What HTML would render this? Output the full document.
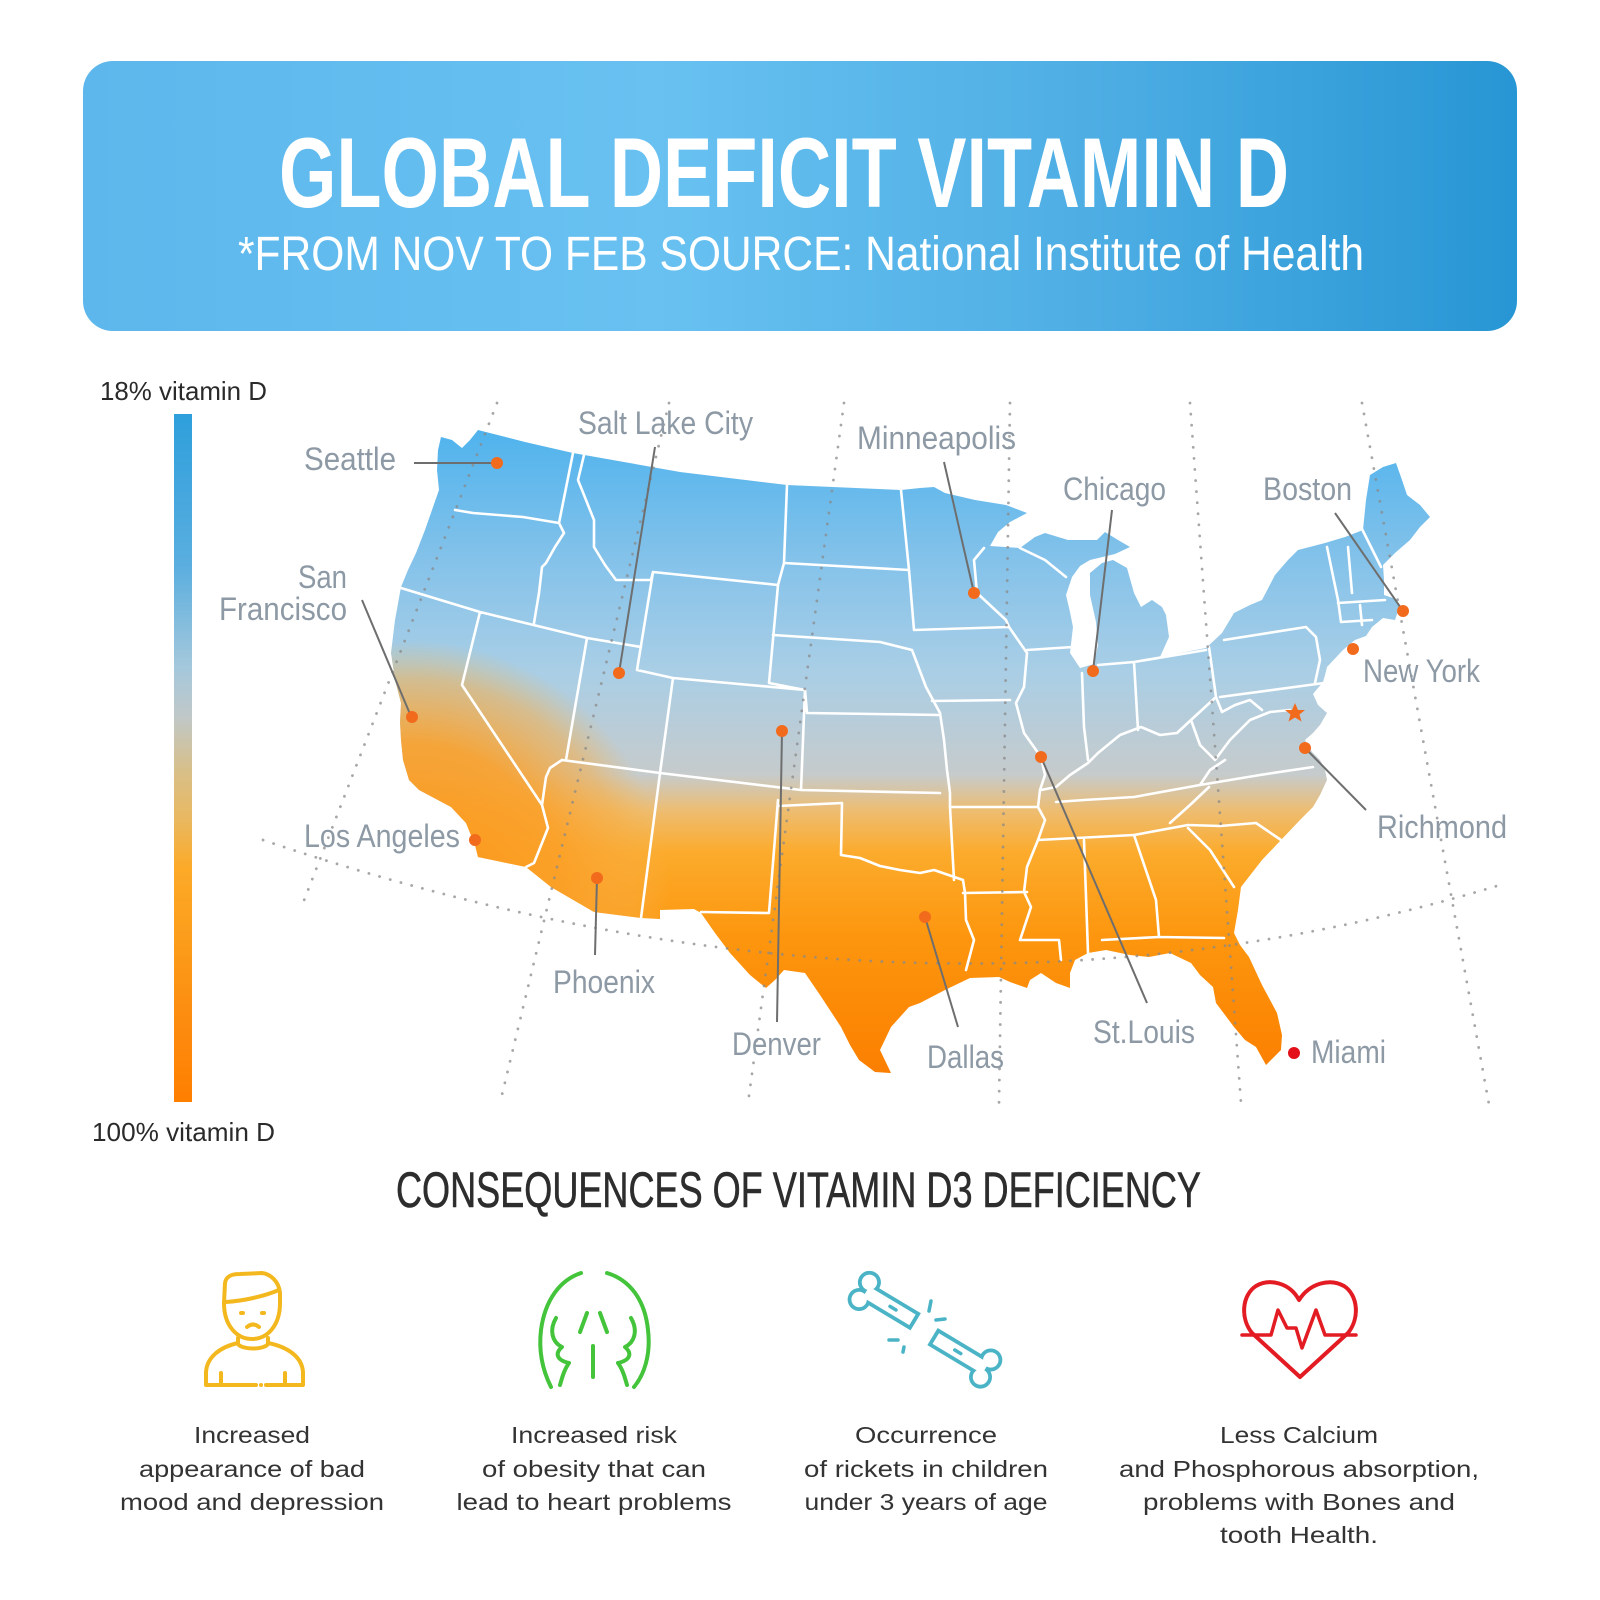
<!DOCTYPE html>
<html><head><meta charset="utf-8"><style>html,body{margin:0;padding:0;background:#fff}svg{display:block}</style></head>
<body>
<svg xmlns="http://www.w3.org/2000/svg" width="1600" height="1600" viewBox="0 0 1600 1600">
<defs>
<linearGradient id="hdr" x1="0" y1="0" x2="1" y2="0">
<stop offset="0" stop-color="#5db7ec"/><stop offset="0.4" stop-color="#68c1f1"/><stop offset="0.7" stop-color="#4eaee4"/><stop offset="1" stop-color="#2796d4"/>
</linearGradient>
<linearGradient id="bar" x1="0" y1="0" x2="0" y2="1">
<stop offset="0" stop-color="#2e9fdc"/><stop offset="0.22" stop-color="#5aaedf"/><stop offset="0.37" stop-color="#a5c8dc"/><stop offset="0.44" stop-color="#c0c8c8"/><stop offset="0.52" stop-color="#d8bf88"/><stop offset="0.59" stop-color="#e9b860"/><stop offset="0.66" stop-color="#fcaa28"/><stop offset="0.74" stop-color="#fca01e"/><stop offset="0.88" stop-color="#fc8c10"/><stop offset="1" stop-color="#ff7f00"/>
</linearGradient>
<linearGradient id="mapg" gradientUnits="userSpaceOnUse" x1="0" y1="430" x2="0" y2="1080">
<stop offset="0" stop-color="#4fb3ed"/><stop offset="0.2" stop-color="#84c2ea"/><stop offset="0.37" stop-color="#a9cee6"/><stop offset="0.53" stop-color="#c6cbcc"/><stop offset="0.585" stop-color="#edbd72"/><stop offset="0.65" stop-color="#fcab2c"/><stop offset="0.78" stop-color="#fd960e"/><stop offset="1" stop-color="#fb7e00"/>
</linearGradient>
<radialGradient id="west" gradientUnits="userSpaceOnUse" cx="410" cy="900" r="260">
<stop offset="0" stop-color="#fb9618" stop-opacity="1"/><stop offset="0.6" stop-color="#fba028" stop-opacity="0.9"/><stop offset="0.85" stop-color="#f8ac40" stop-opacity="0.5"/><stop offset="1" stop-color="#f5b550" stop-opacity="0"/>
</radialGradient>
<path id="us" d="M441,437 L452,440 L462,448 L470,440 L478,430 L525,442 L573,453 L680,472 L787,485 L901,490 L920,488 L934,487 L945,493 L975,500 L1006,505 L1027,513 L1010,522 L998,532 L990,546 L1005,547 L1020,548 L1035,537 L1045,533 L1068,540 L1097,540 L1105,532 L1118,540 L1130,547 L1115,554 L1090,560 L1080,566 L1072,577 L1066,595 L1070,612 L1073,627 L1070,653 L1080,668 L1094,664 L1098,645 L1096,622 L1090,595 L1090,573 L1102,563 L1113,560 L1127,568 L1134,593 L1141,607 L1152,600 L1162,607 L1166,615 L1169,637 L1160,657 L1185,652 L1206,648 L1222,633 L1234,613 L1250,605 L1262,600 L1275,575 L1288,560 L1298,550 L1325,543 L1345,537 L1363,530 L1366,500 L1370,475 L1383,467 L1396,463 L1402,480 L1407,495 L1420,505 L1430,517 L1420,527 L1410,540 L1395,553 L1383,565 L1384,580 L1384,595 L1393,598 L1400,605 L1395,620 L1383,618 L1372,627 L1366,636 L1355,640 L1343,650 L1327,667 L1325,675 L1323,682 L1313,694 L1318,705 L1327,713 L1320,725 L1313,733 L1305,740 L1312,752 L1320,760 L1325,770 L1327,780 L1320,795 L1313,807 L1300,820 L1281,840 L1262,860 L1241,887 L1238,910 L1234,933 L1240,945 L1249,957 L1262,985 L1277,1013 L1282,1035 L1281,1050 L1266,1065 L1256,1047 L1245,1040 L1234,1027 L1216,1003 L1213,987 L1200,975 L1191,963 L1170,953 L1149,957 L1130,955 L1106,950 L1088,953 L1075,960 L1070,973 L1070,988 L1056,983 L1041,973 L1030,980 L1027,988 L1010,982 L999,977 L970,978 L945,990 L920,1003 L909,1007 L891,1027 L880,1050 L891,1073 L875,1072 L859,1060 L850,1045 L841,1027 L820,995 L805,973 L784,970 L775,980 L766,988 L750,975 L730,953 L715,933 L701,913 L694,909 L660,910 L660,919 L641,918 L594,912 L551,887 L526,867 L478,857 L475,845 L466,823 L451,807 L419,790 L409,780 L403,760 L401,740 L400,722 L401,703 L395,680 L391,653 L395,620 L401,587 L408,570 L416,553 L425,530 L432,510 L439,490 L437,470 L438,450 Z"/>
</defs>

<rect width="1600" height="1600" fill="#fff"/>

<!-- Header -->
<rect x="83" y="61" width="1434" height="270" rx="30" ry="30" fill="url(#hdr)"/>
<text x="279" y="207" font-family="'Liberation Sans Narrow','Liberation Sans',Arial,sans-serif" font-size="99" font-weight="bold" fill="#fff" textLength="1010" lengthAdjust="spacingAndGlyphs">GLOBAL DEFICIT VITAMIN D</text>
<text x="238" y="270" font-family="'Liberation Sans Narrow','Liberation Sans',Arial,sans-serif" font-size="48" fill="#fff" textLength="1126" lengthAdjust="spacingAndGlyphs">*FROM NOV TO FEB SOURCE: National Institute of Health</text>

<!-- Legend -->
<text x="100" y="400" font-family="'Liberation Sans',Arial,sans-serif" font-size="26" fill="#2a2a2a" textLength="167" lengthAdjust="spacingAndGlyphs">18% vitamin D</text>
<rect x="174" y="414" width="18" height="688" fill="url(#bar)"/>
<text x="92" y="1141" font-family="'Liberation Sans',Arial,sans-serif" font-size="26" fill="#2a2a2a" textLength="183" lengthAdjust="spacingAndGlyphs">100% vitamin D</text>

<!-- Map -->
<use href="#us" fill="url(#mapg)"/>
<use href="#us" fill="url(#west)"/>

<path fill="none" stroke="#fff" stroke-width="2.6" stroke-linejoin="round" stroke-linecap="round" d="
M455,510 L473,513 L523,517 L559,523
M573,453 L559,523
M559,523 L564,533 L555,547 L546,563 L542,567 L539,593 L534,623
M401,588 L480,612 L587,638 L641,647
M480,612 L462,685 L542,805
M587,638 L566,760
M562,760 L550,768 L546,777 L542,805 L548,828 L534,863 L526,867
M562,760 L660,773 L801,790 L940,793
M660,773 L641,918
M673,678 L660,773
M637,670 L673,678 L805,690
M653,572 L637,670
M584,455 L578,480 L594,520 L594,547 L605,565 L616,580 L651,580 L653,572
M653,572 L778,585
M787,485 L784,563 L778,585
M784,563 L909,570
M901,490 L909,570 L914,630
M778,585 L769,683
M773,635 L880,642 L912,650 L926,687 L940,713
M769,683 L805,690 L807,713 L940,715
M805,690 L801,790
M778,800 L769,913 M701,912 L769,913
M778,806 L842,803 L841,855 L860,858 L880,866 L900,870 L920,873 L934,870 L963,880
M940,713 L944,740 L947,770 L950,793 L950,807 L954,880
M963,880 L965,893 L966,920 L974,940 L966,970
M963,893 L1027,892
M950,807 L1038,807
M984,548 L974,560 L977,593 L1006,620 L1009,627 L1027,653 L1024,687 L1016,703 L1024,733 L1041,757 L1045,775 L1040,790 L1038,807 L1045,820 L1038,840 L1027,867 L1024,892 L1031,907 L1020,940
M914,630 L1009,627
M932,701 L1010,700
M1020,548 L1045,560 L1066,577
M1027,650 L1073,647
M1082,673 L1084,727 L1088,760
M1098,665 L1134,662 L1206,650
M1134,662 L1138,730
M1041,790 L1056,787 L1070,775 L1088,763 L1098,753 L1120,735 L1141,727 L1160,735 L1177,733 L1191,720 L1216,697
M1209,647 L1216,697
M1224,640 L1306,627 L1316,637
M1316,637 L1320,660 L1315,683
M1220,697 L1324,683
M1327,547 L1338,600 L1341,622
M1348,547 L1352,593
M1359,523 L1381,567
M1338,603 L1385,600
M1341,622 L1372,620
M1360,605 L1362,625
M1056,802 L1084,800 L1134,797 L1200,785 L1260,775 L1313,767
M1038,840 L1134,835 L1188,825
M1084,840 L1088,953
M1134,835 L1156,900 L1159,937
M1188,828 L1210,850 L1234,887
M1188,825 L1220,826 L1256,823 L1281,840
M1102,940 L1159,937 L1224,938
M1020,940 L1059,940 L1061,960
M1170,823 L1190,805 L1209,787
M1191,720 L1200,745 L1215,760 L1230,740 L1250,720 L1270,712 L1290,710
M1216,697 L1222,712 L1235,705 L1250,700 L1262,710
M1200,785 L1210,770 L1225,760
"/>

<!-- Dotted grid lines -->
<g fill="none" stroke="#8a8a8a" stroke-opacity="0.75" stroke-width="2.8" stroke-linecap="round" stroke-dasharray="0.1 11">
<path d="M497,403 L303,903"/>
<path d="M669,403 L500,1103"/>
<path d="M844,403 L748,1103"/>
<path d="M1010,403 L999,1103"/>
<path d="M1190,403 L1241,1103"/>
<path d="M1362,403 L1490,1110"/>
<path d="M263,840 Q918,1062 1500,885"/>
</g>

<!-- Leader lines -->
<g stroke="#6e6e6e" stroke-width="2" fill="none">
<path d="M414,463 L497,463"/>
<path d="M655,447 L619,673"/>
<path d="M362,600 L410,714"/>
<path d="M944,462 L974,593"/>
<path d="M1112,510 L1093,671"/>
<path d="M1335,513 L1403,611"/>
<path d="M782,731 L777,1022"/>
<path d="M597,878 L595,955"/>
<path d="M925,917 L958,1027"/>
<path d="M1041,757 L1147,1003"/>
<path d="M1305,748 L1366,810"/>
</g>

<!-- City dots -->
<g fill="#f26b1d">
<circle cx="497" cy="463" r="6"/>
<circle cx="619" cy="673" r="6"/>
<circle cx="412" cy="717" r="6"/>
<circle cx="475" cy="840" r="6"/>
<circle cx="782" cy="731" r="6"/>
<circle cx="597" cy="878" r="6"/>
<circle cx="925" cy="917" r="6"/>
<circle cx="974" cy="593" r="6"/>
<circle cx="1093" cy="671" r="6"/>
<circle cx="1041" cy="757" r="6"/>
<circle cx="1403" cy="611" r="6"/>
<circle cx="1353" cy="649" r="6"/>
<circle cx="1305" cy="748" r="6"/>
<path d="M1295,703 L1298,710 L1305,710 L1299.5,714.5 L1301.5,721.5 L1295,717.5 L1288.5,721.5 L1290.5,714.5 L1285,710 L1292,710 Z"/>
</g>
<circle cx="1294" cy="1053" r="6" fill="#e3101a"/>

<!-- City labels -->
<g font-family="'Liberation Sans Narrow','Liberation Sans',Arial,sans-serif" font-size="32" fill="#8d99a4">
<text x="304" y="470" textLength="92" lengthAdjust="spacingAndGlyphs">Seattle</text>
<text x="578" y="434" textLength="175" lengthAdjust="spacingAndGlyphs">Salt Lake City</text>
<text x="857" y="449" textLength="159" lengthAdjust="spacingAndGlyphs">Minneapolis</text>
<text x="1063" y="500" textLength="103" lengthAdjust="spacingAndGlyphs">Chicago</text>
<text x="1263" y="500" textLength="89" lengthAdjust="spacingAndGlyphs">Boston</text>
<text x="298" y="588" textLength="49" lengthAdjust="spacingAndGlyphs">San</text>
<text x="219" y="620" textLength="128" lengthAdjust="spacingAndGlyphs">Francisco</text>
<text x="304" y="847" textLength="156" lengthAdjust="spacingAndGlyphs">Los Angeles</text>
<text x="1363" y="682" textLength="117" lengthAdjust="spacingAndGlyphs">New York</text>
<text x="1377" y="838" textLength="130" lengthAdjust="spacingAndGlyphs">Richmond</text>
<text x="553" y="993" textLength="102" lengthAdjust="spacingAndGlyphs">Phoenix</text>
<text x="732" y="1055" textLength="89" lengthAdjust="spacingAndGlyphs">Denver</text>
<text x="927" y="1068" textLength="77" lengthAdjust="spacingAndGlyphs">Dallas</text>
<text x="1093" y="1043" textLength="102" lengthAdjust="spacingAndGlyphs">St.Louis</text>
<text x="1311" y="1063" textLength="75" lengthAdjust="spacingAndGlyphs">Miami</text>
</g>

<!-- Consequences title -->
<text x="396" y="1207" font-family="'Liberation Sans Narrow','Liberation Sans',Arial,sans-serif" font-size="50" fill="#2d2d2d" stroke="#2d2d2d" stroke-width="0.6" textLength="805" lengthAdjust="spacingAndGlyphs">CONSEQUENCES OF VITAMIN D3 DEFICIENCY</text>

<!-- Icon 1: person -->
<g fill="none" stroke="#f4b81f" stroke-width="4" stroke-linecap="round" stroke-linejoin="round">
<path d="M224,1303 C224,1326 237,1339 252,1339 C267,1339 280,1326 280,1303"/>
<path d="M224,1303 L225,1283 C226,1276 232,1274 240,1274 L262,1273 C271,1274 279,1282 280,1293 L280,1303"/>
<path d="M226,1302 C242,1301 262,1297 279,1290"/>
<path d="M241,1313 L243,1313 M262,1313 L264,1313"/>
<path d="M247,1327 Q253,1322 259,1327"/>
<path d="M238,1338 L238,1344 C242,1350 264,1350 268,1344 L268,1338"/>
<path d="M238,1343 C220,1347 207,1357 206,1372 L206,1385 L256,1385 M266,1385 L303,1385 L303,1372 C302,1357 288,1347 268,1343"/>
<path d="M221,1373 L221,1385 M285,1373 L285,1385"/>
</g>
<circle cx="261" cy="1385" r="2" fill="#f4b81f"/>

<!-- Icon 2: torso -->
<g fill="none" stroke="#43c43a" stroke-width="4" stroke-linecap="round" stroke-linejoin="round">
<path d="M581,1273 C560,1280 545,1300 541,1330 C538,1355 545,1375 551,1387"/>
<path d="M607,1273 C630,1280 645,1300 648,1330 C651,1355 644,1375 634,1387"/>
<path d="M587,1313 L580,1332 M600,1313 L607,1332 M593,1346 L593,1377"/>
<path d="M556,1318 C549,1330 552,1342 562,1347 C555,1353 556,1360 569,1363 C564,1370 562,1378 560,1385"/>
<path d="M631,1318 C638,1330 635,1342 625,1347 C632,1353 631,1360 618,1363 C623,1370 625,1378 627,1385"/>
</g>

<!-- Icon 3: broken bone -->
<g transform="translate(926,1328) rotate(31)">
<g fill="#4ab4c6">
<rect x="-70" y="-10" width="58" height="20"/>
<circle cx="-72" cy="-10" r="11.5"/><circle cx="-72" cy="10" r="11.5"/>
<rect x="10" y="-6" width="60" height="20"/>
<circle cx="72" cy="-6" r="11.5"/><circle cx="72" cy="14" r="11.5"/>
</g>
<g fill="#fff">
<rect x="-70" y="-6.2" width="54.2" height="12.4"/>
<circle cx="-72" cy="-10" r="7.7"/><circle cx="-72" cy="10" r="7.7"/>
<rect x="13.8" y="-2.2" width="58" height="12.4"/>
<circle cx="72" cy="-6" r="7.7"/><circle cx="72" cy="14" r="7.7"/>
</g>
<path d="M-42,0 L-35,0 M36,4 L43,4" stroke="#4ab4c6" stroke-width="3.5" stroke-linecap="round"/>
</g>
<g stroke="#4ab4c6" stroke-width="3.5" stroke-linecap="round">
<path d="M931,1301 L929,1311 M936,1320 L945,1319 M889,1340 L898,1340 M904,1347 L903,1352"/>
</g>

<!-- Icon 4: heart -->
<g fill="none" stroke="#e31b23" stroke-width="4" stroke-linecap="round" stroke-linejoin="round">
<path d="M1299,1300 C1290,1283 1270,1278 1256,1286 C1242,1295 1240,1318 1252,1333 L1300,1377 L1348,1333 C1360,1318 1358,1295 1344,1286 C1330,1278 1310,1283 1299,1300 Z"/>
<path d="M1242,1335 L1271,1335 L1278,1310 L1287,1328 L1296,1328 L1302,1348 L1316,1310 L1325,1335 L1356,1335" stroke-width="3.5"/>
</g>

<!-- Bottom captions -->
<g font-family="'Liberation Sans',Arial,sans-serif" font-size="23" fill="#333" text-anchor="middle">
<text x="252" y="1443" textLength="116" lengthAdjust="spacingAndGlyphs">Increased</text>
<text x="252" y="1477" textLength="226" lengthAdjust="spacingAndGlyphs">appearance of bad</text>
<text x="252" y="1510" textLength="264" lengthAdjust="spacingAndGlyphs">mood and depression</text>

<text x="594" y="1443" textLength="166" lengthAdjust="spacingAndGlyphs">Increased risk</text>
<text x="594" y="1477" textLength="224" lengthAdjust="spacingAndGlyphs">of obesity that can</text>
<text x="594" y="1510" textLength="275" lengthAdjust="spacingAndGlyphs">lead to heart problems</text>

<text x="926" y="1443" textLength="142" lengthAdjust="spacingAndGlyphs">Occurrence</text>
<text x="926" y="1477" textLength="244" lengthAdjust="spacingAndGlyphs">of rickets in children</text>
<text x="926" y="1510" textLength="243" lengthAdjust="spacingAndGlyphs">under 3 years of age</text>

<text x="1299" y="1443" textLength="158" lengthAdjust="spacingAndGlyphs">Less Calcium</text>
<text x="1299" y="1477" textLength="360" lengthAdjust="spacingAndGlyphs">and Phosphorous absorption,</text>
<text x="1299" y="1510" textLength="312" lengthAdjust="spacingAndGlyphs">problems with Bones and</text>
<text x="1299" y="1543" textLength="158" lengthAdjust="spacingAndGlyphs">tooth Health.</text>
</g>
</svg>
</body></html>
